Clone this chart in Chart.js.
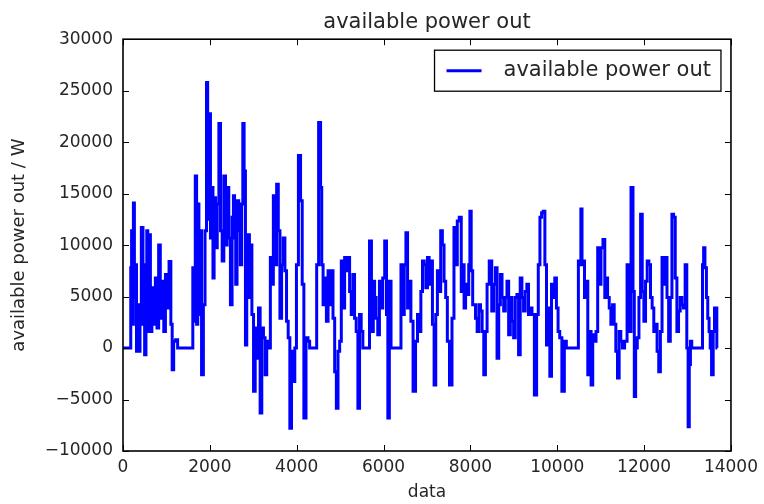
<!DOCTYPE html>
<html>
<head>
<meta charset="utf-8">
<title>available power out</title>
<script src="https://cdn.jsdelivr.net/npm/chart.js@4/dist/chart.umd.min.js"></script>
<style>
  body { margin: 0; background: #fff; }
  #wrap { width: 764px; height: 504px; }
</style>
</head>
<body>
<div id="wrap"><canvas id="powerChart" width="764" height="504"></canvas></div>
<script>
// sample index (x) and available power (W), peak by peak
const sampleIndex = [
  0, 175, 182, 213, 228, 251, 274, 296, 327, 350, 380, 403, 441, 479, 517, 540, 555, 585, 616, 646,
  684, 722, 768, 798, 844, 874, 920, 958, 996, 1034, 1087, 1117, 1148, 1186, 1239, 1277, 1596, 1619, 1649, 1680,
  1710, 1733, 1763, 1786, 1832, 1870, 1908, 1938, 1961, 1999, 2029, 2060, 2083, 2113, 2151, 2189, 2227, 2265, 2303, 2341,
  2379, 2417, 2455, 2493, 2531, 2554, 2584, 2607, 2645, 2683, 2721, 2744, 2774, 2804, 2835, 2865, 2896, 2926, 2949, 2987,
  3025, 3063, 3101, 3139, 3177, 3215, 3253, 3291, 3329, 3382, 3405, 3443, 3481, 3519, 3557, 3595, 3633, 3671, 3709, 3747,
  3785, 3823, 3861, 3899, 3937, 3975, 4013, 4066, 4112, 4142, 4188, 4241, 4279, 4317, 4446,
  4474, 4535, 4565, 4588, 4627, 4665, 4703, 4741, 4779, 4817, 4855, 4894, 4932, 4970, 5008, 5046, 5084, 5123, 5161, 5199,
  5237, 5275, 5313, 5351, 5390, 5428, 5466, 5504, 5542, 5657, 5695, 5748, 5779, 5809, 5847, 5886, 5924, 5962, 6000, 6053,
  6084, 6114, 6153, 6191, 6382, 6420, 6458, 6496, 6534, 6572, 6610, 6649, 6710, 6763, 6801, 6840, 6878, 6916, 6954, 6992,
  7030, 7068, 7106, 7145, 7183, 7221, 7259, 7297, 7335, 7374, 7412, 7450, 7488, 7549, 7603, 7640, 7679, 7717, 7770, 7808,
  7839, 7870, 7908, 7946, 7977, 7999, 8037, 8068, 8098, 8136, 8175, 8213, 8251, 8289, 8327, 8365, 8403, 8465, 8518, 8556,
  8594, 8633, 8671, 8709, 8747, 8785, 8823, 8861, 8900, 8938, 8976, 9014, 9052, 9090, 9128, 9166, 9205, 9243, 9281, 9319,
  9357, 9395, 9440,
  9506, 9544, 9582, 9620, 9658, 9696, 9734, 9772, 9810, 9848, 9886, 9924, 9962, 10000, 10038, 10076, 10137, 10190, 10228, 10479,
  10494, 10532, 10555, 10585, 10608, 10646, 10684, 10722, 10760, 10798, 10836, 10874, 10912, 10950, 10988, 11026, 11079, 11110, 11140, 11178,
  11216, 11254, 11292, 11330, 11368, 11406, 11444, 11482, 11520, 11581, 11634, 11672, 11725, 11763, 11786, 11824, 11862, 11900, 11938, 11976,
  12014, 12052, 12090, 12128, 12166, 12204, 12242, 12280, 12318, 12356, 12394, 12432, 12470, 12508, 12546, 12584, 12622, 12660, 12698, 12736,
  12774, 12812, 12850, 12888, 12926, 12964, 13002, 13025, 13055, 13078, 13116, 13329, 13359, 13382, 13420, 13450, 13481, 13511, 13534, 13572,
  13610, 13633, 13663, 13686
];
const powerOut = [
  0, 0, 7800, 11400, 2300, 14100, 4900, 8100, -300, 4200, -300, 2900, 11700, 2300, -650, 8100, 11400, 1600, 11000, 1600,
  5850, 2300, 6800, 1950, 10000, 2900, 6500, 1600, 7150, 3900, 8400, 2300, -2100, 650, 800, 0, 0, 7800, 2600, 16700,
  2300, 14000, 3250, 11400, -2600, 4200, 11400, 25800, 12500, 22750, 10700, 15600, 6800, 14600, 9750, 14000, 21800, 11400, 8450, 16700,
  10000, 15600, 10700, 4200, 12700, 14800, 10700, 6200, 14300, 11400, 8100, 14000, 21800, 17200, 300, 9750, 11000, 4900, 10000, 3250,
  -4200, 1950, -1000, 3900, -6300, 1950, 1000, -2600, 650, 0, 8800, 6200, 14800, 8100, 15900, 11400, 2900, 8100, 10700, 7500,
  2600, 1000, -7800, -300, -3250, 0, 8100, 18700, 14300, 6200, -6800, 1000, 650, 0, 0,
  8100, 21900, 15600, 8100, 4200, 6800, 2600, 7500, 4200, 7500, 2900, -2300, -5850, -300, 650, 8450, 3900, 8800, 7500, 8800,
  5500, 3250, 7150, 2900, 1600, -5850, 3250, 1600, 0, 0, 10400, 1600, 6500, 4900, 2900, 1300, 6500, 3900, 6800, 10400,
  3250, -6800, 6500, 0, 0, 8100, 3250, 8100, 11200, 3900, 6500, 2600, -4200, 650, 3250, 1600, 5500, 8450, 8100, 5850,
  8800, 6200, 8450, 2300, -3600, 3250, 7500, 5500, 11400, 10000, 6500, 4900, 650, -3600, 2900, 11700, 8100, 12350, 12700, 5500,
  8100, 3900, 6200, 5200, 8100, 13300, 7500, 4200, 4200, 2900, 1600, 4200, 3600, 1600, -2600, 1600, 6200, 8450, 3600, 6200,
  7800, -1000, 4200, 7150, 4900, 3600, 4900, 6500, 1300, 4900, 2600, 1000, 4900, 5200, -650, 6800, 4900, 3600, 5500, 6200,
  3250, 3900, 3250,
  -4550, 3250, 8100, 12700, 13150, 13300, 8100, 300, 3900, -2750, 6200, 4900, 6800, 3900, 1600, 1000, -4200, 650, 0, 0,
  8450, 8100, 13500, 8100, 8450, 4900, 6500, -2600, 1600, -3600, 1300, 650, 1600, 9750, 6200, 9750, 10550, 4900, 6800, 4900,
  3900, 2300, 4200, 2300, -300, -2900, 1600, 650, 0, 650, 8100, 1600, 15600, 5500, -4700, 0, 1000, 4900, 13000, 5500,
  2600, 6500, 8450, 8100, 4900, 3900, 1600, 2300, -300, -2300, 1600, 8800, 6200, 8800, 4900, 650, 4900, 13000, 12700, 6800,
  1600, 3600, 4900, 4200, 3900, 8100, 0, -7650, -1600, 650, 0, 0, 8100, 9750, 7800, 4900, 2900, 1600, 0, -2600,
  1600, 3900, 3900, 0
];
const xTicks = [0, 2000, 4000, 6000, 8000, 10000, 12000, 14000];
const yTicks = [-10000, -5000, 0, 5000, 10000, 15000, 20000, 25000, 30000];

const TEXT = '#262626';
const FONT = 'DejaVu Sans';

// matplotlib-ish frame: full box, inward ticks on all four sides, legend box top right
const framePlugin = {
  id: 'frame',
  afterDraw(chart) {
    const { ctx, chartArea: a, scales: { x, y } } = chart;
    ctx.save();
    ctx.strokeStyle = '#000';
    ctx.lineWidth = 1;
    ctx.beginPath();
    xTicks.forEach(v => {
      const px = Math.round(x.getPixelForValue(v)) + 0.5;
      ctx.moveTo(px, a.bottom); ctx.lineTo(px, a.bottom - 6);
      ctx.moveTo(px, a.top); ctx.lineTo(px, a.top + 6);
    });
    yTicks.forEach(v => {
      const py = Math.round(y.getPixelForValue(v)) + 0.5;
      ctx.moveTo(a.left, py); ctx.lineTo(a.left + 6, py);
      ctx.moveTo(a.right, py); ctx.lineTo(a.right - 6, py);
    });
    ctx.stroke();
    ctx.lineWidth = 1.6;
    ctx.strokeRect(a.left, a.top, a.right - a.left, a.bottom - a.top);

    // legend
    const ds = chart.data.datasets[0];
    ctx.font = '21px "' + FONT + '"';
    const tw = ctx.measureText(ds.label).width;
    const bw = 69 + tw + 10, bh = 41;
    const bx = a.right - 10 - bw, by = a.top + 11;
    ctx.fillStyle = '#fff';
    ctx.fillRect(bx, by, bw, bh);
    ctx.lineWidth = 1.3;
    ctx.strokeStyle = '#000';
    ctx.strokeRect(bx, by, bw, bh);
    ctx.strokeStyle = ds.borderColor;
    ctx.lineWidth = 3;
    ctx.beginPath();
    ctx.moveTo(bx + 12, by + bh / 2); ctx.lineTo(bx + 47, by + bh / 2);
    ctx.stroke();
    ctx.fillStyle = TEXT;
    ctx.textBaseline = 'middle';
    ctx.fillText(ds.label, bx + 69, by + bh / 2);
    ctx.restore();
  }
};

const ctx = document.getElementById('powerChart').getContext('2d');
new Chart(ctx, {
  type: 'line',
  data: {
    datasets: [{
      label: 'available power out',
      data: sampleIndex.map((v, i) => ({ x: v, y: powerOut[i] })),
      borderColor: '#0000ff',
      borderWidth: 3,
      pointRadius: 0,
      stepped: 'middle',
      fill: false
    }]
  },
  options: {
    responsive: false,
    animation: false,
    layout: { padding: { left: 0, right: 30, top: 0, bottom: 0 } },
    plugins: {
      legend: { display: false },
      tooltip: { enabled: false },
      title: {
        display: true,
        text: 'available power out',
        fullSize: false,
        color: TEXT,
        font: { family: FONT, size: 21, weight: 'normal' },
        padding: { top: 10, bottom: 4 }
      }
    },
    scales: {
      x: {
        type: 'linear',
        min: 0, max: 14000,
        afterBuildTicks: s => { s.ticks = xTicks.map(v => ({ value: v })); },
        afterFit: s => { s.height = 53; },
        grid: { display: false, drawTicks: false },
        border: { display: false },
        ticks: { color: TEXT, font: { family: FONT, size: 17 }, padding: 6, maxRotation: 0, callback: v => String(v) },
        title: { display: true, text: 'data', color: TEXT, font: { family: FONT, size: 17 }, padding: { top: 0, bottom: 1 } }
      },
      y: {
        type: 'linear',
        min: -10000, max: 30000,
        afterBuildTicks: s => { s.ticks = yTicks.map(v => ({ value: v })); },
        afterFit: s => { s.width = 123; },
        grid: { display: false, drawTicks: false },
        border: { display: false },
        ticks: { color: TEXT, font: { family: FONT, size: 17 }, padding: 10, callback: v => String(v).replace('-', '\u2212') },
        title: { display: true, text: 'available power out / W', color: TEXT, font: { family: FONT, size: 18 }, padding: { top: 9, bottom: 0 } }
      }
    }
  },
  plugins: [framePlugin]
});
</script>
</body>
</html>
